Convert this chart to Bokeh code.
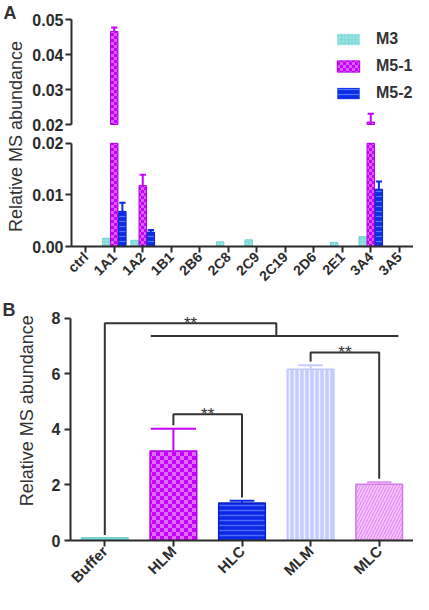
import math, zlib, struct, base64
from bokeh.plotting import figure
from bokeh.models import (FactorRange, Range1d, FixedTicker, ColumnDataSource,
                          Legend, LegendItem, Label, ImageURLTexture, NumeralTickFormatter)
from bokeh.transform import dodge
from bokeh.layouts import column, row
from bokeh.embed import file_html
from bokeh.resources import INLINE
from bokeh.core.properties import value

# ---------------- data: panel A ----------------
isoforms = ["ctrl", "1A1", "1A2", "1B1", "2B6", "2C8", "2C9", "2C19", "2D6", "2E1", "3A4", "3A5"]
series_labels = ["M3", "M5-1", "M5-2"]
m3_vals = [0, 0.0016, 0.0012, 0, 0, 0.0009, 0.0013, 0, 0, 0.0008, 0.0019, 0]
m51_vals = [0, 0.0466, 0.0118, 0, 0, 0, 0, 0, 0, 0, 0.0207, 0]
m52_vals = [0, 0.0068, 0.0028, 0, 0, 0, 0, 0, 0, 0, 0.0111, 0]
m3_err = [0, 0, 0, 0, 0, 0, 0, 0, 0, 0, 0, 0]
m51_err = [0, 0.0011, 0.0021, 0, 0, 0, 0, 0, 0, 0, 0.0024, 0]
m52_err = [0, 0.0017, 0.0004, 0, 0, 0, 0, 0, 0, 0, 0.0015, 0]
a_break = 0.02
a_top = 0.05
a_ticks_low = [0.0, 0.01, 0.02]
a_ticks_high = [0.02, 0.03, 0.04, 0.05]

# ---------------- data: panel B ----------------
preps = ["Buffer", "HLM", "HLC", "MLM", "MLC"]
b_vals = [0.10, 3.22, 1.35, 6.17, 2.03]
b_err = [0.0, 0.80, 0.08, 0.14, 0.07]
b_ticks = [0, 2, 4, 6, 8]
b_axis_max = 8
sig_text = ["**", "**", "**"]
sig_left = ["Buffer", "HLM", "MLM"]
sig_right = [["HLM", "MLC"], ["HLC"], ["MLC"]]
sig_top = [7.82, 4.55, 6.77]
sig_left_foot = [0.20, 4.15, 6.45]
sig_right_foot = [7.34, 1.55, 2.22]
group_members = ["HLM", "MLC"]
group_line_y = 7.36

y_title = "Relative MS abundance"

# ---------------- styling ----------------
FONT = "Liberation Sans"
INK = "#2b2b2b"
TXT = "#333333"


def hex_rgb(h):
    h = h.lstrip("#")
    return bytes(int(h[i:i + 2], 16) for i in (0, 2, 4))


def checker(c1, c2, cell):
    n = cell * 2
    raw = b""
    for y in range(n):
        raw += b"\x00"
        for x in range(n):
            raw += hex_rgb(c1 if ((x // cell) + (y // cell)) % 2 == 0 else c2)

    def chunk(t, d):
        return struct.pack(">I", len(d)) + t + d + struct.pack(">I", zlib.crc32(t + d) & 0xffffffff)
    png = (b"\x89PNG\r\n\x1a\n" + chunk(b"IHDR", struct.pack(">IIBBBBB", n, n, 8, 2, 0, 0, 0))
           + chunk(b"IDAT", zlib.compress(raw)) + chunk(b"IEND", b""))
    return ImageURLTexture(url="data:image/png;base64," + base64.b64encode(png).decode(),
                           repetition="repeat")


textures = {"checkA": checker("#c800ff", "#d862ff", 3), "checkB": checker("#c800ff", "#dc6cff", 4)}


def style_axis(ax, size="16px"):
    ax.axis_line_width = 2
    ax.axis_line_color = INK
    ax.major_tick_line_width = 2
    ax.major_tick_line_color = INK
    ax.major_tick_out = 6
    ax.major_tick_in = 0
    ax.minor_tick_out = 0
    ax.minor_tick_in = 0
    ax.major_label_text_font = FONT
    ax.major_label_text_font_style = "bold"
    ax.major_label_text_font_size = size
    ax.major_label_text_color = INK


def bare(p):
    p.xgrid.visible = False
    p.ygrid.visible = False
    p.outline_line_color = None
    p.background_fill_color = None
    p.border_fill_color = None


def title_strip(width, height, letter, letter_x, letter_top, ly_x, ly_y):
    s = figure(width=width, height=height, x_range=Range1d(0, width), y_range=Range1d(0, height),
               output_backend="svg", toolbar_location=None, min_border=0,
               x_axis_location=None, y_axis_location=None)
    bare(s)
    s.add_layout(Label(x=letter_x, y=height - letter_top, text=letter, text_font=FONT,
                       text_font_size="18px", text_font_style="bold", text_color=TXT,
                       text_baseline="top", text_align="left"))
    s.add_layout(Label(x=ly_x, y=height - ly_y, text=y_title, angle=math.pi / 2, text_font=FONT,
                       text_font_size="18px", text_color=TXT, text_align="center",
                       text_baseline="middle"))
    return s


# ================= Panel A =================
SEG = 105          # px per axis segment
A_STRIP = 24
A_W = 413 - A_STRIP
A_L = 47
U_H, U_T = 133, 19
L_H, L_B = 159, 44
u_frame = U_H - U_T
l_frame = L_H - L_B
upper_start = a_top - (a_top - a_break) * u_frame / SEG
lower_end = a_break * l_frame / SEG

xr = FactorRange(factors=isoforms)
fu = figure(width=A_W, height=U_H, x_range=xr, y_range=Range1d(upper_start, a_top),
            output_backend="svg", toolbar_location=None, x_axis_location=None,
            min_border_left=A_L, min_border_right=0, min_border_top=U_T, min_border_bottom=0)
fl = figure(width=A_W, height=L_H, x_range=xr, y_range=Range1d(0, lower_end),
            output_backend="svg", toolbar_location=None,
            min_border_left=A_L, min_border_right=0, min_border_top=0, min_border_bottom=L_B)
for p, bounds, ticks in ((fu, (a_break, a_top), a_ticks_high), (fl, (0, a_break), a_ticks_low)):
    bare(p)
    ax = p.yaxis[0]
    style_axis(ax, "16px")
    ax.bounds = bounds
    ax.ticker = FixedTicker(ticks=ticks)
    ax.formatter = NumeralTickFormatter(format="0.00")
    ax.major_label_standoff = 2

xa = fl.xaxis[0]
style_axis(xa, "14px")
xa.major_label_orientation = math.pi / 4
xa.major_label_standoff = 2

a_styles = [
    dict(fill="#82dada", line="#72d0d0", hatch="dot", hcolor="#b8eeee", hscale=3.5),
    dict(fill="#c800ff", line="#b200e6", hatch="checkA", hcolor="#d862ff", hscale=6),
    dict(fill="#0a2ee6", line="#0820c0", hatch="horizontal_line", hcolor="#5676ff", hscale=5),
]
a_offsets = [-0.285, 0.0, 0.285]
a_bw = 0.26
a_cap = 0.22

series_vals = [m3_vals, m51_vals, m52_vals]
series_err = [m3_err, m51_err, m52_err]
legend_items = []
for name, vals, errs, st, off in zip(series_labels, series_vals, series_err, a_styles, a_offsets):
    xs = [c for c, v in zip(isoforms, vals) if v > 0]
    vv = [v for v in vals if v > 0]
    hp = "hatch" if st["hatch"] in textures else st["hatch"]
    kw = dict(fill_color=st["fill"], line_color=st["line"], line_width=1, line_alpha="la",
              hatch_pattern=hp, hatch_color=st["hcolor"], hatch_scale=st["hscale"],
              hatch_weight=1.2, hatch_extra=textures)
    # lower segment: bars cut at the axis break
    low = dict(x=xs, top=[min(v, a_break) for v in vv], hatch=[st["hatch"]] * len(xs),
               la=[1.0] * len(xs))
    fl.vbar(x=dodge("x", off, range=xr), top="top", bottom=0, width=a_bw,
            source=ColumnDataSource(low), **kw)
    # upper segment: part of each bar above the break (empty for bars below it)
    up = dict(x=xs, top=[max(v, a_break) for v in vv], hatch=[st["hatch"]] * len(xs),
              la=[1.0 if v > a_break else 0.0 for v in vv])
    r = fu.vbar(x=dodge("x", off, range=xr), top="top", bottom=a_break, width=a_bw,
                source=ColumnDataSource(up), **kw)
    legend_items.append(LegendItem(label=name, renderers=[r]))
    for c, v, e in zip(isoforms, vals, errs):
        if e <= 0:
            continue
        xc = isoforms.index(c) + 0.5 + off
        p = fu if v > a_break else fl
        p.segment(x0=[xc], y0=[v], x1=[xc], y1=[v + e], line_color=st["fill"], line_width=2)
        p.segment(x0=[xc - a_cap / 2], y0=[v + e], x1=[xc + a_cap / 2], y1=[v + e],
                  line_color=st["fill"], line_width=2)

legend = Legend(items=legend_items, location=(263, 30), border_line_color=None,
                background_fill_alpha=0, padding=0, margin=0, spacing=7, label_standoff=14,
                glyph_width=28, glyph_height=14, label_height=20,
                label_text_font=FONT, label_text_font_size="16px", label_text_font_style="bold",
                label_text_color=TXT)
fu.add_layout(legend)

stripA = title_strip(A_STRIP, U_H + L_H, "A", 3, 2, 15, 136)
panelA = row(stripA, column(fu, fl, spacing=0), spacing=0)

# ================= Panel B =================
B_STRIP = 36
B_W, B_H = 413 - B_STRIP, 302
B_L, B_R, B_T, B_B = 34, 0, 6, 52
b_px_per_unit = 28.0
b_end = (B_H - B_T - B_B) / b_px_per_unit
fb = figure(width=B_W, height=B_H, x_range=FactorRange(factors=preps),
            y_range=Range1d(0, b_end), output_backend="svg", toolbar_location=None,
            min_border_left=B_L, min_border_right=B_R, min_border_top=B_T, min_border_bottom=B_B)
bare(fb)
yb = fb.yaxis[0]
style_axis(yb)
yb.bounds = (0, b_axis_max)
yb.ticker = FixedTicker(ticks=b_ticks)
yb.major_label_standoff = 4

xb = fb.xaxis[0]
style_axis(xb, "15px")
xb.major_label_orientation = math.pi / 4
xb.major_label_standoff = 2

b_fill = ["#80dada", "#c800ff", "#0a28e6", "#c5ccff", "#e390f3"]
b_line = ["#72d0d0", "#b400e8", "#0820c8", "#c0c8ff", "#d27ae8"]
b_hatch = ["blank", "checkB", "horizontal_line", "vertical_line", "right_diagonal_line"]
b_hcolor = ["#80dada", "#dc6cff", "#4a6aff", "#eef0ff", "#f6c8fc"]
b_hscale = [6, 8, 5, 5, 6]
b_errcol = ["#80dada", "#c800ff", "#0a28e6", "#c5ccff", "#e390f3"]
b_capw = [0.0, 0.66, 0.36, 0.36, 0.36]
b_bw = 0.68

bsrc = ColumnDataSource(dict(x=preps, top=b_vals, fill=b_fill, line=b_line, hatch=b_hatch,
                             hcolor=b_hcolor, hscale=b_hscale))
fb.vbar(x="x", top="top", bottom=0, width=b_bw, source=bsrc, fill_color="fill", line_color="line",
        line_width=1.5, hatch_pattern="hatch", hatch_color="hcolor", hatch_scale="hscale",
        hatch_weight=1.5, hatch_extra=textures)

for c, v, e, col, cw in zip(preps, b_vals, b_err, b_errcol, b_capw):
    if e <= 0:
        continue
    xc = preps.index(c) + 0.5
    fb.segment(x0=[xc], y0=[v], x1=[xc], y1=[v + e], line_color=col, line_width=2)
    fb.segment(x0=[xc - cw / 2], y0=[v + e], x1=[xc + cw / 2], y1=[v + e], line_color=col, line_width=2)

bx, by, tx, ty = [], [], [], []
for left, right, top, lf, rf in zip(sig_left, sig_right, sig_top, sig_left_foot, sig_right_foot):
    xl = preps.index(left) + 0.5
    xrr = sum(preps.index(c) + 0.5 for c in right) / len(right)
    bx.append([xl, xl, xrr, xrr])
    by.append([lf, top, top, rf])
    tx.append((xl + xrr) / 2)
    ty.append(top)
g0 = preps.index(group_members[0]) + 0.5 - 0.33
g1 = preps.index(group_members[-1]) + 0.5 + 0.28
bx.append([g0, g1])
by.append([group_line_y, group_line_y])
fb.multi_line(xs=bx, ys=by, line_color=TXT, line_width=2)
fb.text(x=tx, y=ty, text=sig_text, text_align="center", text_baseline="alphabetic",
        text_font=value(FONT), text_font_size="17px", text_color=TXT)

stripB = title_strip(B_STRIP, B_H, "B", 2, 2, 26.5, 140)
panelB = row(stripB, fb, spacing=0)

page = column(panelA, panelB, spacing=0)
open("out.html", "w").write(file_html(page, INLINE))
